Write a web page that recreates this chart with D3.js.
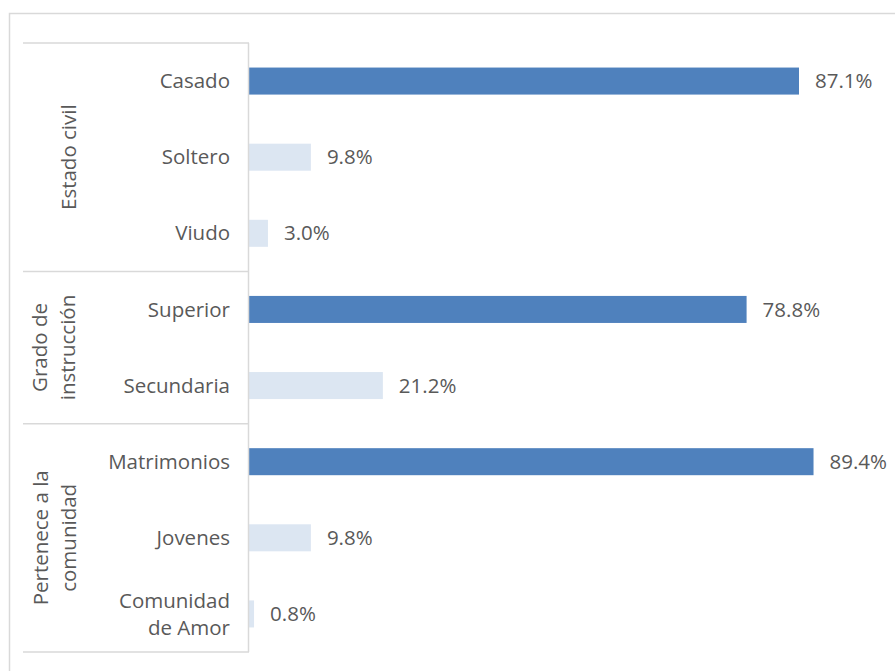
<!DOCTYPE html>
<html><head><meta charset="utf-8">
<script src="https://cdn.jsdelivr.net/npm/d3@7"></script>
<style>body{margin:0;background:#fff}svg{display:block}</style>
</head><body>
<script>
const categories = ["Casado","Soltero","Viudo","Superior","Secundaria","Matrimonios","Jovenes","Comunidad de Amor"];
const values = [87.1, 9.8, 3.0, 78.8, 21.2, 89.4, 9.8, 0.8];
const groups = ["Estado civil","Grado de instrucción","Pertenece a la comunidad"];
const groupOf = [0,0,0,1,1,2,2,2];
const groupLines = [["Estado civil"],["Grado de","instrucción"],["Pertenece a la","comunidad"]];
const highlight = [true,false,false,true,false,true,false,false];

const W=895,H=671;
const svg=d3.select("body").append("svg").attr("width",W).attr("height",H);
svg.append("rect").attr("width",W).attr("height",H).attr("fill","#fff");
svg.append("rect").attr("x",9.5).attr("y",13.5).attr("width",W).attr("height",H)
  .attr("fill","none").attr("stroke","#d9d9d9").attr("stroke-width",1.5);

const x0=249, yTop=43, yBot=652;
const x=d3.scaleLinear().domain([0,87.1]).range([x0,799]);
const y=d3.scaleBand().domain(categories).range([yTop,yBot]).paddingInner(0.645).paddingOuter(0.3225);
const font="'Open Sans', sans-serif", col="#595959", fs=20.5;
const step=y.step();

svg.selectAll("rect.bar").data(categories).join("rect").attr("class","bar")
  .attr("x",x0).attr("y",d=>y(d)).attr("height",y.bandwidth())
  .attr("width",(d,i)=>x(values[i])-x0)
  .attr("fill",(d,i)=>highlight[i]?"#4F81BD":"#DCE6F2");

svg.selectAll("text.val").data(categories).join("text").attr("class","val")
  .attr("x",(d,i)=>x(values[i])+16).attr("y",d=>y(d)+y.bandwidth()/2)
  .attr("dy","0.35em").attr("font-family",font).attr("font-size",fs).attr("fill",col)
  .text((d,i)=>values[i].toFixed(1)+"%");

categories.forEach((c,i)=>{
  const cy=y(c)+y.bandwidth()/2;
  const words = c==="Comunidad de Amor"?["Comunidad","de Amor"]:[c];
  const t=svg.append("text").attr("text-anchor","end")
    .attr("font-family",font).attr("font-size",fs).attr("fill",col);
  words.forEach((w,k)=>{
    t.append("tspan").attr("x",x0-19).attr("y",cy+(k-(words.length-1)/2)*27).attr("dy","0.35em").text(w);
  });
});

svg.append("line").attr("x1",x0-0.5).attr("x2",x0-0.5).attr("y1",yTop).attr("y2",yBot)
  .attr("stroke","#d9d9d9").attr("stroke-width",1.5);
const sepYs=[yTop];
[3,5].forEach(i=>sepYs.push(y(categories[i])-(step-y.bandwidth())/2));
sepYs.push(yBot);
svg.selectAll("line.sep").data(sepYs).join("line").attr("class","sep")
  .attr("x1",23).attr("x2",x0).attr("y1",d=>d).attr("y2",d=>d)
  .attr("stroke","#d9d9d9").attr("stroke-width",1.5);

const gx=[69,54,55];
groups.forEach((g,gi)=>{
  const cy=(sepYs[gi]+sepYs[gi+1])/2;
  const lines=groupLines[gi];
  const t=svg.append("text").attr("transform",`translate(${gx[gi]},${cy}) rotate(-90)`)
    .attr("text-anchor","middle").attr("font-family",font).attr("font-size",fs).attr("fill",col);
  lines.forEach((l,k)=>{
    t.append("tspan").attr("x",0).attr("y",(k-(lines.length-1)/2)*28).attr("dy","0.35em").text(l);
  });
});
</script>
</body></html>
